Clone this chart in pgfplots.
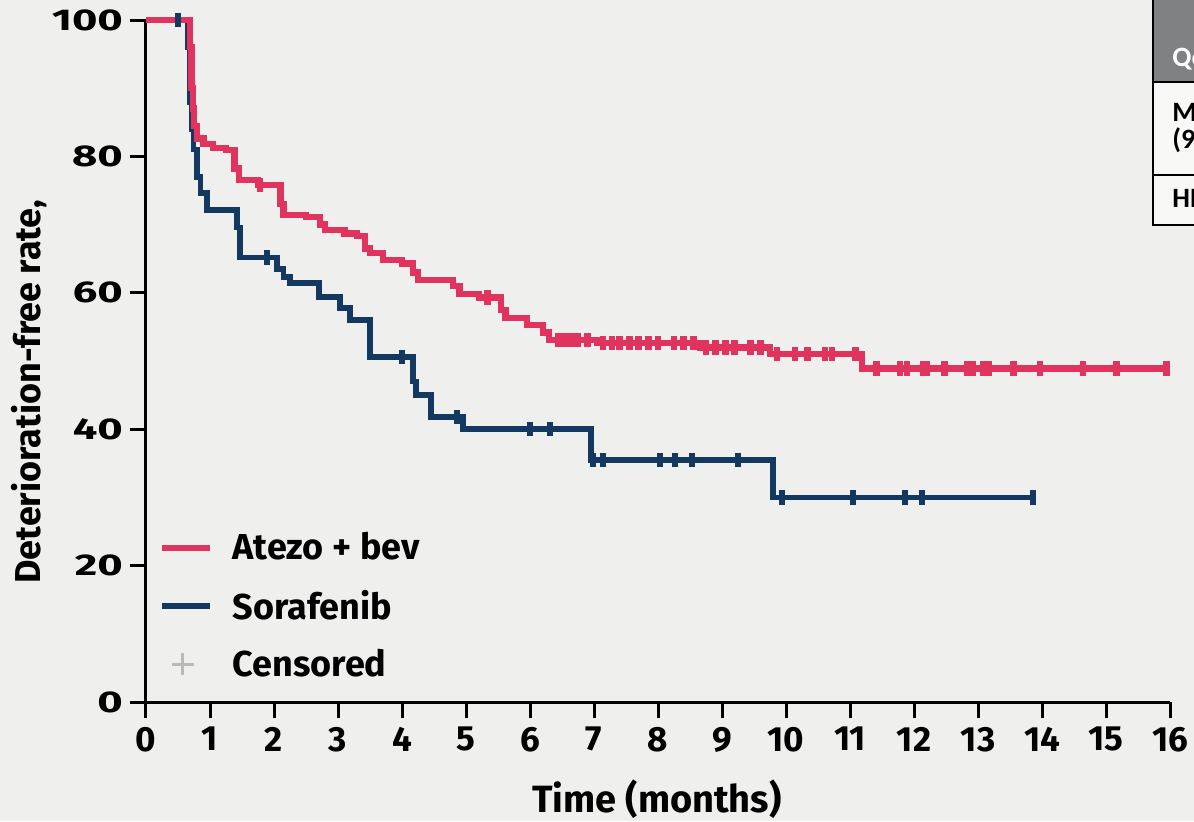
\documentclass[border=0pt]{standalone}
\usepackage{fontspec}
\setmainfont{Fira Sans}
\newfontfamily\ytfont[FakeStretch=1.45]{Fira Sans}
\newfontfamily\tabfont{Carlito}
\usepackage{pgfplots}
\pgfplotsset{compat=1.18}
\definecolor{atezo}{RGB}{224,51,94}
\definecolor{sora}{RGB}{19,57,96}
\definecolor{bg}{RGB}{239,239,238}
\definecolor{hdr}{RGB}{128,129,131}
\begin{document}
\begin{tikzpicture}
\clip (-73pt,-59.5pt) rectangle (524pt,351pt);
\fill[bg] (-73pt,-59.5pt) rectangle (524pt,351pt);
% partially visible table (top right)
\fill[hdr] (503.5pt,352pt) rectangle (580pt,310pt);
\fill[white!55!bg] (503.5pt,310pt) rectangle (580pt,238.5pt);
\draw[line width=1pt] (503.5pt,352pt) -- (503.5pt,238.5pt) -- (580pt,238.5pt);
\draw[line width=1pt] (503.5pt,310pt) -- (580pt,310pt) (503.5pt,263.5pt) -- (580pt,263.5pt);
\node[anchor=base west, inner sep=0, text=white, font=\tabfont\bfseries\fontsize{14}{16}\selectfont] at (513pt,318pt) {QoL};
\node[anchor=base west, inner sep=0, font=\tabfont\bfseries\fontsize{14}{16}\selectfont] at (513pt,290.5pt) {Median};
\node[anchor=base west, inner sep=0, font=\tabfont\bfseries\fontsize{14}{16}\selectfont] at (513pt,277pt) {(95\% CI)};
\node[anchor=base west, inner sep=0, font=\tabfont\bfseries\fontsize{14}{16}\selectfont] at (513pt,247.5pt) {HR};
\begin{axis}[
  scale only axis, width=512pt, height=341pt,
  xmin=0, xmax=16, ymin=0, ymax=100,
  axis x line*=bottom, axis y line*=left,
  axis line style={line width=1.5pt, black},
  xtick={0,...,16}, ytick={0,20,...,100},
  tick align=outside, major tick length=8pt,
  tick style={line width=1.5pt, black},
  /pgf/number format/assume math mode=true,
  xticklabel style={font=\bfseries\fontsize{17.5}{17.5}\selectfont, yshift=-1pt},
  yticklabel style={font=\ytfont\bfseries\fontsize{15}{15}\selectfont},
  clip=false,
  xlabel={Time (months)}, ylabel={Deterioration-free rate,},
  xlabel style={font=\bfseries\fontsize{19}{19}\selectfont, at={(axis description cs:0.499,-0.143)}, anchor=center},
  ylabel style={font=\bfseries\fontsize{18}{18}\selectfont, at={(axis description cs:-0.114,0.455)}, anchor=center},
  legend cell align=left,
  legend style={draw=none, fill=none, at={(axis description cs:0.012,0.255)}, anchor=north west,
    font=\bfseries\fontsize{18}{18}\selectfont, row sep=9.5pt, inner sep=0pt,
    /tikz/every odd column/.append style={column sep=8pt}},
]
\addlegendimage{legend image code/.code={\draw[atezo,line width=3pt] (0pt,0pt)--(24pt,0pt);}}
\addlegendentry{Atezo + bev}
\addlegendimage{legend image code/.code={\draw[sora,line width=3pt] (0pt,0pt)--(24pt,0pt);}}
\addlegendentry{Sorafenib}
\addlegendimage{legend image code/.code={\draw[gray!55,line width=1.4pt] (5pt,0pt)--(16pt,0pt) (10.5pt,-5.5pt)--(10.5pt,5.5pt);}}
\addlegendentry{Censored}

% Sorafenib
\addplot[const plot, sora, line width=2.8pt, forget plot] coordinates {
(0,100) (0.66,96) (0.68,88) (0.71,84) (0.74,81) (0.8,77) (0.85,74.6) (0.95,72.1)
(1.42,69.6) (1.47,65.2) (2.05,63.5) (2.15,62.3) (2.25,61.4) (2.7,59.4) (3.03,57.8)
(3.19,56) (3.5,50.6) (4.17,47) (4.22,45) (4.45,41.8) (4.95,40) (6.95,35.5)
(9.8,30) (13.86,30)};
\addplot[only marks, sora, mark=|, mark size=3.6pt, line width=3pt, forget plot] coordinates {
(0.5,100) (1.89,65.2) (4.0,50.6) (4.86,41.8) (6.0,40) (6.31,40) (6.98,35.5) (7.14,35.5)
(8.03,35.5) (8.27,35.5) (8.53,35.5) (9.25,35.5) (9.94,30) (11.05,30) (11.86,30)
(12.13,30) (13.86,30)};

% Atezo + bev
\addplot[const plot, atezo, line width=3.2pt, forget plot] coordinates {
(0,100) (0.69,96) (0.71,90) (0.73,87) (0.75,84.5) (0.8,82.6) (0.9,81.8) (1.05,81.2)
(1.25,80.9) (1.38,78.2) (1.45,76.5) (1.75,75.8) (2.1,73) (2.15,71.4) (2.5,71.1)
(2.72,70) (2.8,69.2) (3.1,68.7) (3.3,68.3) (3.42,66.5) (3.5,65.8) (3.7,64.8)
(4.0,64.3) (4.17,63) (4.25,61.9) (4.8,61) (4.9,59.8) (5.2,59.3) (5.55,57.5)
(5.62,56.3) (5.95,55.3) (6.2,54.2) (6.3,53.1) (7.05,52.6) (8.66,52.0) (9.75,51.0)
(11.19,48.9) (15.95,48.9)};
\addplot[only marks, atezo, mark=|, mark size=3.6pt, line width=3.4pt, forget plot] coordinates {
(1.78,75.8) (5.34,59.3) (6.45,53.1) (6.55,53.1) (6.65,53.1) (6.75,53.1) (6.9,53.1)
(7.14,52.6) (7.28,52.6) (7.4,52.6) (7.55,52.6) (7.7,52.6) (7.85,52.6) (8.0,52.6)
(8.25,52.6) (8.4,52.6) (8.55,52.6) (8.75,52.0) (8.9,52.0) (9.05,52.0) (9.2,52.0)
(9.45,52.0) (9.6,52.0) (9.86,51) (10.14,51) (10.33,51) (10.61,51) (10.72,51)
(11.08,51) (11.42,48.9) (11.78,48.9) (11.89,48.9) (12.14,48.9) (12.2,48.9)
(12.48,48.9) (12.83,48.9) (12.92,48.9) (13.08,48.9) (13.16,48.9) (13.55,48.9)
(13.97,48.9) (14.64,48.9) (15.17,48.9) (15.95,48.9)};
\end{axis}
\end{tikzpicture}
\end{document}
